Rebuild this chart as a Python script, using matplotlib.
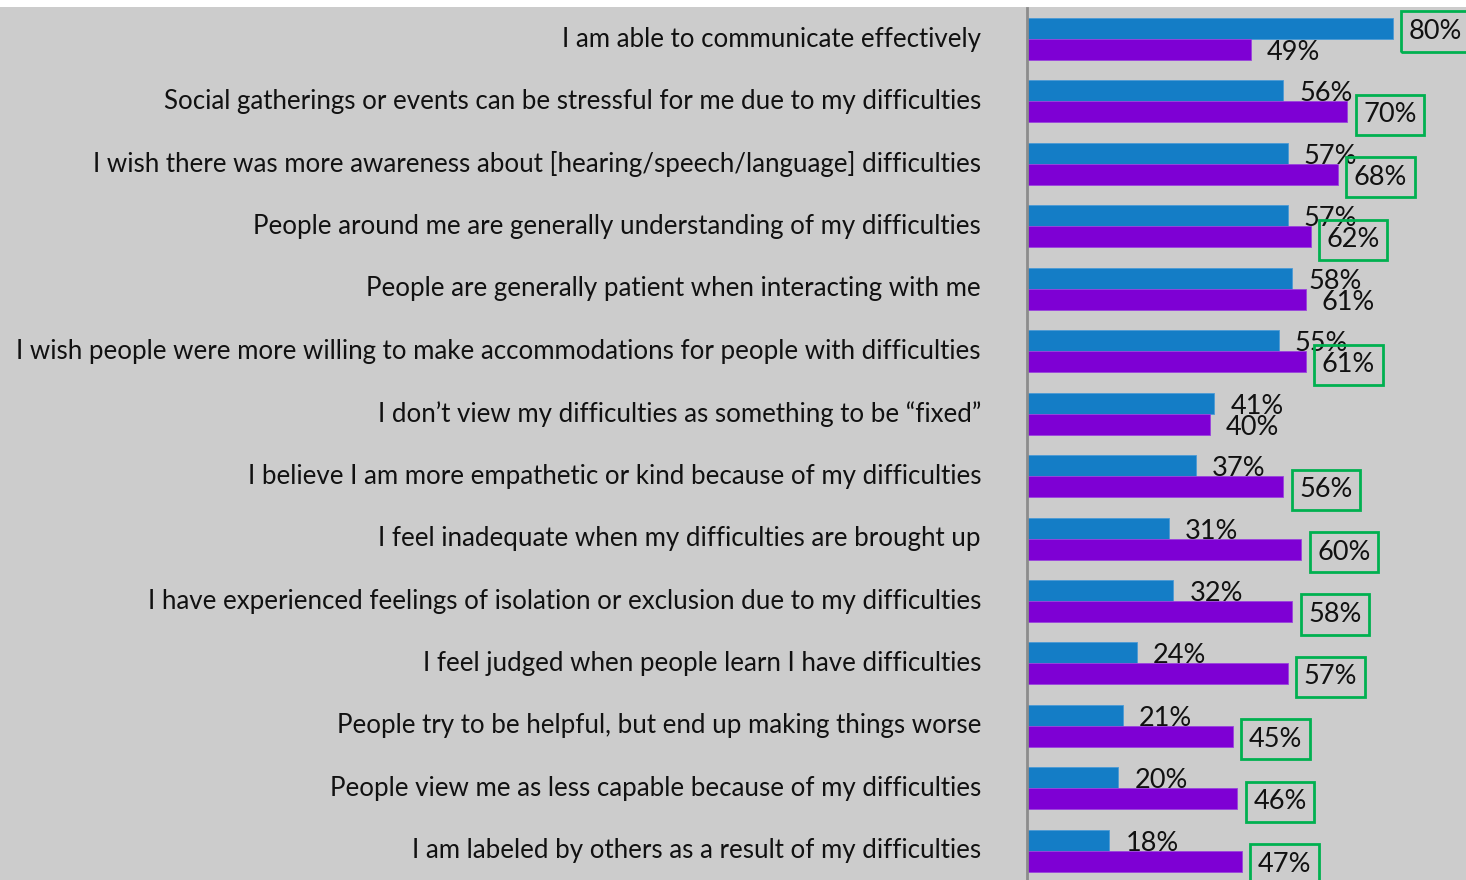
import matplotlib
matplotlib.use("Agg")
import matplotlib.pyplot as plt
from matplotlib.patches import Rectangle

categories = [
    "I am able to communicate effectively",
    "Social gatherings or events can be stressful for me due to my difficulties",
    "I wish there was more awareness about [hearing/speech/language] difficulties",
    "People around me are generally understanding of my difficulties",
    "People are generally patient when interacting with me",
    "I wish people were more willing to make accommodations for people with difficulties",
    "I don\u2019t view my difficulties as something to be \u201cfixed\u201d",
    "I believe I am more empathetic or kind because of my difficulties",
    "I feel inadequate when my difficulties are brought up",
    "I have experienced feelings of isolation or exclusion due to my difficulties",
    "I feel judged when people learn I have difficulties",
    "People try to be helpful, but end up making things worse",
    "People view me as less capable because of my difficulties",
    "I am labeled by others as a result of my difficulties",
]
series_blue = [80, 56, 57, 57, 58, 55, 41, 37, 31, 32, 24, 21, 20, 18]
series_purple = [49, 70, 68, 62, 61, 61, 40, 56, 60, 58, 57, 45, 46, 47]
# which value labels get a highlight box
boxed_blue = [True] + [False] * 13
boxed_purple = [False, True, True, True, False, True, False,
                True, True, True, True, True, True, True]

BG = "#cccccc"
BLUE = "#147dc6"
PURPLE = "#7e00d4"
GREEN = "#00b050"
FONT = "Lato"
FS = 18.6
FS_VAL = 19.5

W, H = 1466, 880
fig = plt.figure(figsize=(W / 100, H / 100), dpi=100, facecolor=BG)
fig.patches.append(Rectangle((0, 1 - 7 / H), 1, 7 / H, transform=fig.transFigure,
                             facecolor="white", edgecolor="none", zorder=0))

ax_left = 1027 / W
ax_top = 1 - 7.8 / H
ax_h = 874.2 / H
ax = fig.add_axes([ax_left, ax_top - ax_h, 439 / W, ax_h])
ax.set_facecolor(BG)

n = len(categories)
ypos = list(range(n))
bh = 0.336
ax.barh([y - bh / 2 for y in ypos], series_blue, height=bh, color=BLUE,
        edgecolor="#4a9ad6", linewidth=0.6)
ax.barh([y + bh / 2 for y in ypos], series_purple, height=bh, color=PURPLE,
        edgecolor="#9a44dc", linewidth=0.6)

ax.set_xlim(0, 96)
ax.set_ylim(n - 0.5, -0.5)
for s in ["top", "right", "bottom"]:
    ax.spines[s].set_visible(False)
ax.spines["left"].set_color("#8c8c8c")
ax.spines["left"].set_linewidth(2)
ax.set_xticks([])
ax.set_yticks([])

px = 0.72  # points per pixel at 100 dpi

for y, lab in zip(ypos, categories):
    ax.annotate(lab, xy=(0, y), xycoords=("axes fraction", "data"),
                xytext=(-46 * px, 0), textcoords="offset points",
                ha="right", va="center", fontsize=FS, family=FONT, color="#111111")

def value_label(v, y, boxed, z):
    kw = {}
    if boxed:
        kw["bbox"] = dict(boxstyle="square,pad=0.28", facecolor="none",
                          edgecolor=GREEN, linewidth=2)
    ax.annotate(f"{v}%", xy=(v, y), xytext=(16 * px, -3 * px), textcoords="offset points",
                ha="left", va="center", fontsize=FS_VAL, family=FONT, color="#111111",
                annotation_clip=False, zorder=z, **kw)

for y, vb, vp, bb, bp in zip(ypos, series_blue, series_purple, boxed_blue, boxed_purple):
    value_label(vb, y - bh / 2, bb, 5)
    value_label(vp, y + bh / 2, bp, 6)

fig.savefig("out.png", dpi=100, facecolor=BG)
